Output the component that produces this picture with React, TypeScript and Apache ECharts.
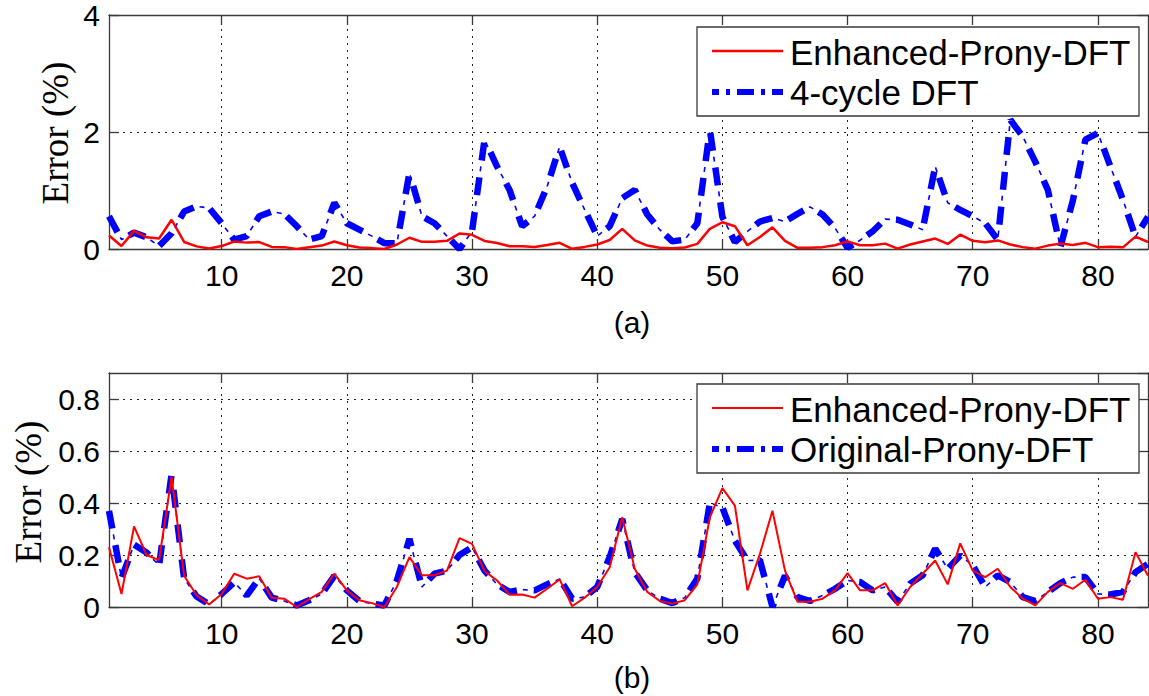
import React, { useEffect, useRef } from "react";
import * as echarts from "echarts";

// Sample index 1..84 (x axis), values in %
const enhancedPronyDFT = [
  0.23, 0.05, 0.31, 0.2, 0.18, 0.5, 0.12, 0.045, 0.01, 0.05,
  0.128, 0.109, 0.118, 0.036, 0.032, 0.0, 0.03, 0.058, 0.128, 0.064,
  0.026, 0.015, 0.0, 0.077, 0.192, 0.122, 0.122, 0.14, 0.265, 0.243,
  0.138, 0.102, 0.047, 0.048, 0.036, 0.07, 0.106, 0.003, 0.036, 0.077,
  0.153, 0.345, 0.147, 0.058, 0.023, 0.013, 0.026, 0.087, 0.345, 0.457,
  0.39, 0.064, 0.205, 0.37, 0.14, 0.02, 0.02, 0.032, 0.064, 0.13,
  0.064, 0.064, 0.092, 0.006, 0.077, 0.128, 0.179, 0.087, 0.245, 0.14,
  0.115, 0.147, 0.077, 0.032, 0.006, 0.058, 0.092, 0.07, 0.105, 0.032,
  0.038, 0.028, 0.211, 0.12,
];

const originalPronyDFT = [
  0.37, 0.11, 0.24, 0.21, 0.16, 0.51, 0.11, 0.04, 0.01, 0.05,
  0.095, 0.044, 0.11, 0.036, 0.023, 0.006, 0.026, 0.05, 0.12, 0.064,
  0.023, 0.013, 0.006, 0.102, 0.262, 0.077, 0.128, 0.14, 0.2, 0.23,
  0.14, 0.087, 0.058, 0.067, 0.064, 0.087, 0.108, 0.032, 0.038, 0.077,
  0.192, 0.338, 0.134, 0.064, 0.032, 0.015, 0.036, 0.11, 0.4, 0.383,
  0.255, 0.179, 0.18, 0.0, 0.12, 0.038, 0.023, 0.044, 0.07, 0.102,
  0.096, 0.064, 0.077, 0.02, 0.09, 0.122, 0.224, 0.147, 0.198, 0.16,
  0.077, 0.122, 0.096, 0.038, 0.023, 0.058, 0.092, 0.115, 0.115, 0.05,
  0.048, 0.058, 0.134, 0.166,
];

const fourCycleDFT = [
  0.56, 0.16, 0.28, 0.2, 0.05, 0.27, 0.64, 0.73, 0.7, 0.44,
  0.16, 0.22, 0.56, 0.64, 0.6, 0.39, 0.16, 0.22, 0.79, 0.44,
  0.33, 0.22, 0.1, 0.1, 1.3, 0.56, 0.44, 0.22, 0.0, 0.3,
  1.87, 1.41, 1.01, 0.39, 0.56, 1.07, 1.75, 1.13, 0.67, 0.22,
  0.39, 0.87, 1.01, 0.59, 0.33, 0.13, 0.16, 0.44, 2.04, 0.55,
  0.12, 0.3, 0.47, 0.53, 0.47, 0.6, 0.72, 0.59, 0.36, 0.02,
  0.15, 0.3, 0.51, 0.5, 0.42, 0.33, 1.41, 0.79, 0.67, 0.56,
  0.44, 0.16, 2.21, 1.92, 1.49, 1.01, 0.03, 0.83, 1.87, 1.98,
  1.41, 0.84, 0.21, 0.55,
];

const xTickValues = [10, 20, 30, 40, 50, 60, 70, 80];
const xMin = 1;
const xMax = 84;
const topYMax = 4;
const topYInterval = 2;
const bottomYMax = 0.9;
const bottomYInterval = 0.2;

const legendTop = ["Enhanced-Prony-DFT", "4-cycle DFT"];
const legendBottom = ["Enhanced-Prony-DFT", "Original-Prony-DFT"];
const yTitle = "Error (%)";
const panelLabels = ["(a)", "(b)"];

const SANS = '"Liberation Sans", Arial, Helvetica, sans-serif';
const SERIF = '"Liberation Serif", "Times New Roman", serif';
const RED = "#ff0000";
const BLUE = "#0000ff";
const AXIS = "#3a3a3a";
const TICK_FONT = 30;

const toPairs = (vals: number[]) => vals.map((v, i) => [i + 1, v]);

function xAxisPair(gridIndex: number) {
  const common = {
    type: "value",
    gridIndex,
    min: xMin,
    max: xMax,
    axisLine: { show: true, onZero: false, lineStyle: { color: AXIS, width: 1.3 } },
  };
  return [
    {
      ...common,
      position: "bottom",
      axisTick: { show: true, inside: true, length: 10, customValues: xTickValues, lineStyle: { color: AXIS, width: 1.3 } },
      axisLabel: {
        show: true,
        customValues: xTickValues,
        fontSize: TICK_FONT,
        fontFamily: SANS,
        color: "#000",
        margin: 11,
      },
      splitLine: { show: true, lineStyle: { color: "#222", width: 1, type: [2, 5] } },
    },
    {
      ...common,
      position: "top",
      axisTick: { show: true, inside: true, length: 10, customValues: xTickValues, lineStyle: { color: AXIS, width: 1.3 } },
      axisLabel: { show: false },
      splitLine: { show: false },
    },
  ];
}

function yAxisPair(gridIndex: number, max: number, interval: number) {
  const common = {
    type: "value",
    gridIndex,
    min: 0,
    max,
    interval,
    axisLine: { show: true, onZero: false, lineStyle: { color: AXIS, width: 1.3 } },
    axisTick: { show: true, inside: true, length: 10, lineStyle: { color: AXIS, width: 1.3 } },
  };
  return [
    {
      ...common,
      position: "left",
      axisLabel: {
        show: true,
        fontSize: TICK_FONT,
        fontFamily: SANS,
        color: "#000",
        margin: 9,
        showMaxLabel: max === topYMax,
      },
      splitLine: { show: true, lineStyle: { color: "#222", width: 1, type: [2, 5] } },
    },
    {
      ...common,
      position: "right",
      axisLabel: { show: false },
      splitLine: { show: false },
    },
  ];
}

function dashDotSeries(data: number[][], axisIdx: number, name: string) {
  return [
    {
      name,
      type: "line",
      xAxisIndex: axisIdx,
      yAxisIndex: axisIdx,
      data,
      showSymbol: false,
      symbol: "none",
      z: 2,
      lineStyle: { color: BLUE, width: 6.5, type: [18, 17], dashOffset: 0, cap: "butt" },
    },
    {
      name: name + " ",
      type: "line",
      xAxisIndex: axisIdx,
      yAxisIndex: axisIdx,
      data,
      showSymbol: false,
      symbol: "none",
      z: 2,
      lineStyle: { color: BLUE, width: 1.6, type: [5, 30], dashOffset: 11, cap: "butt" },
    },
  ];
}

function legendBox(top: number, labels: string[], redWidth: number) {
  const left = 697;
  const width = 442;
  const height = 89;
  const y1 = top + 24;
  const y2 = top + 65;
  const textStyle = {
    fontSize: 35,
    fontFamily: SANS,
    fill: "#000",
    textAlign: "left",
    textVerticalAlign: "middle",
    align: "left",
    verticalAlign: "middle",
  };
  return [
    {
      type: "rect",
      z: 100,
      shape: { x: left, y: top, width, height },
      style: { fill: "#fff", stroke: AXIS, lineWidth: 1.3 },
    },
    {
      type: "line",
      z: 101,
      shape: { x1: 712, y1, x2: 783, y2: y1 },
      style: { stroke: RED, lineWidth: redWidth },
    },
    {
      type: "line",
      z: 101,
      shape: { x1: 712, y1: y2, x2: 783, y2 },
      style: { stroke: BLUE, lineWidth: 6, lineDash: [17, 7, 4, 7], lineDashOffset: 10 },
    },
    {
      type: "text",
      z: 101,
      x: 790,
      y: y1 + 1,
      style: { ...textStyle, text: labels[0] },
    },
    {
      type: "text",
      z: 101,
      x: 790,
      y: y2,
      style: { ...textStyle, text: labels[1] },
    },
  ];
}

function centeredText(text: string, x: number, y: number, fontSize: number, fontFamily: string, rotation = 0) {
  return {
    type: "text",
    z: 101,
    x,
    y,
    rotation,
    style: {
      text,
      fontSize,
      fontFamily,
      fill: "#000",
      textAlign: "center",
      textVerticalAlign: "middle",
      align: "center",
      verticalAlign: "middle",
    },
  };
}

export default function App() {
  const ref = useRef<HTMLDivElement>(null);

  useEffect(() => {
    if (!ref.current) return;
    const chart = echarts.init(ref.current, null, { renderer: "svg" });

    const enhanced = toPairs(enhancedPronyDFT);
    const original = toPairs(originalPronyDFT);
    const fourCycle = toPairs(fourCycleDFT);

    const [xa0, xa1] = xAxisPair(0);
    const [xb0, xb1] = xAxisPair(1);
    const [ya0, ya1] = yAxisPair(0, topYMax, topYInterval);
    const [yb0, yb1] = yAxisPair(1, bottomYMax, bottomYInterval);

    const option: any = {
      animation: false,
      backgroundColor: "#ffffff",
      grid: [
        { left: 109, right: 1, top: 15, height: 234, containLabel: false },
        { left: 109, right: 1, top: 373, height: 234, containLabel: false },
      ],
      xAxis: [xa0, xa1, xb0, xb1],
      yAxis: [ya0, ya1, yb0, yb1],
      series: [
        ...dashDotSeries(fourCycle, 0, legendTop[1]),
        {
          name: legendTop[0],
          type: "line",
          xAxisIndex: 0,
          yAxisIndex: 0,
          data: enhanced,
          showSymbol: false,
          symbol: "none",
          z: 3,
          lineStyle: { color: RED, width: 2.5 },
        },
        ...dashDotSeries(original, 2, legendBottom[1]),
        {
          name: legendBottom[0] + "  ",
          type: "line",
          xAxisIndex: 2,
          yAxisIndex: 2,
          data: enhanced,
          showSymbol: false,
          symbol: "none",
          z: 3,
          lineStyle: { color: RED, width: 2 },
        },
      ],
      graphic: [
        ...legendBox(27, legendTop, 2.5),
        ...legendBox(384, legendBottom, 2),
        centeredText(yTitle, 55, 133, 37, SERIF, Math.PI / 2),
        centeredText(yTitle, 28, 492, 37, SERIF, Math.PI / 2),
        centeredText(panelLabels[0], 632, 322, 30, SANS),
        centeredText(panelLabels[1], 632, 677, 30, SANS),
      ],
    };

    chart.setOption(option);
    return () => chart.dispose();
  }, []);

  return (
    <div
      ref={ref}
      style={{ position: "fixed", left: 0, top: 0, width: 1149, height: 696, background: "#fff" }}
    />
  );
}
